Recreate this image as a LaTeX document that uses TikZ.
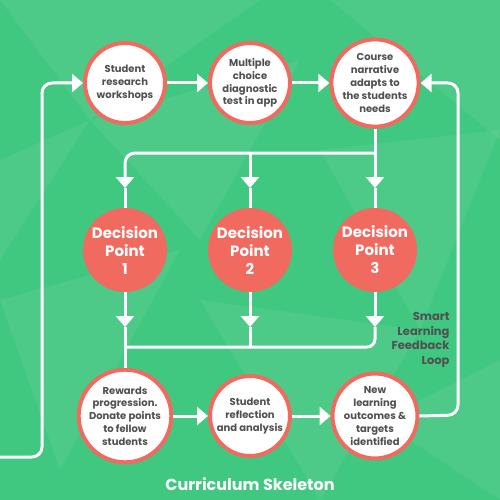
\documentclass[tikz,border=0pt]{standalone}
\usepackage{fontspec}
\setmainfont{Poppins}
\usetikzlibrary{arrows.meta}
\definecolor{bggreen}{RGB}{64,199,128}
\definecolor{nodered}{RGB}{240,106,96}
\definecolor{txtgray}{RGB}{80,80,80}
\tikzset{
  conn/.style={draw=white, line width=3pt},
  arr/.style={conn, -{Triangle[width=18pt,length=11pt]}},
  stepcircle/.style={circle, draw=nodered, line width=4pt, fill=white, minimum size=80pt, inner sep=0pt,
     align=center, text=txtgray, font=\bfseries\fontsize{10}{12.8}\selectfont},
  decision/.style={circle, fill=nodered, minimum size=84pt, inner sep=0pt, outer sep=0pt,
     align=center, text=white, font=\bfseries\fontsize{15}{18}\selectfont},
  patch/.style={fill=white, fill opacity=0.07, draw=none}
}
\begin{document}
\begin{tikzpicture}[x=1pt,y=-1pt]
\useasboundingbox (0,0) rectangle (500,500);
\fill[bggreen] (0,0) rectangle (500,500);
% background texture
\fill[patch] (0,0) -- (260,0) -- (90,120) -- cycle;
\fill[patch] (330,0) -- (500,0) -- (500,140) -- cycle;
\fill[patch] (90,120) -- (300,60) -- (200,240) -- cycle;
\fill[patch] (320,150) -- (500,130) -- (420,330) -- cycle;
\fill[patch] (0,300) -- (180,250) -- (60,470) -- cycle;
\fill[patch] (200,300) -- (420,330) -- (320,500) -- cycle;
\fill[patch] (0,160) -- (90,120) -- (0,260) -- cycle;
\fill[patch] (380,420) -- (500,360) -- (500,500) -- cycle;

% top row
\node[stepcircle] (S1) at (125,83) {Student\\research\\workshops};
\node[stepcircle] (S2) at (250,83) {Multiple\\choice\\diagnostic\\test in app};
\node[stepcircle] (S3) at (375,83) {Course\\narrative\\adapts to\\the students\\needs};
% decisions
\node[decision] (D1) at (125,250) {Decision\\Point\\1};
\node[decision] (D2) at (250,250) {Decision\\Point\\2};
\node[decision] (D3) at (375,250) {Decision\\Point\\3};
% bottom row
\node[stepcircle] (R1) at (125,416) {Rewards\\progression.\\Donate points\\to fellow\\students};
\node[stepcircle] (R2) at (250,416) {Student\\reflection\\and analysis};
\node[stepcircle] (R3) at (375,416) {New\\learning\\outcomes \&\\targets\\identified};

% coordinates
\coordinate (L0) at (0,457);
\coordinate (LC) at (42,457);
\coordinate (RC) at (458,415);
\coordinate (B3) at (375,153);
\coordinate (B2) at (250,153);
\coordinate (U1) at (125,188);
\coordinate (U2) at (250,188);
\coordinate (U3) at (375,188);
\coordinate (W1) at (125,327);
\coordinate (W2) at (250,327);
\coordinate (W3) at (375,327);
\coordinate (J1) at (125,347);
\coordinate (J2) at (250,347);

% top row connectors
\draw[arr] (S1) -- (S2);
\draw[arr] (S2) -- (S3);
% left loop
\draw[arr, rounded corners=10pt] (L0) -- (LC) |- (S1.west);
% right loop
\draw[arr, rounded corners=10pt] (R3.east) -- (RC) |- (S3.east);
% branch down from S3
\draw[conn] (S3.south) -- (B3);
\draw[arr] (B3) -- (U3);
\draw[conn] (U3) -- (D3.north);
\draw[arr, rounded corners=10pt] (B3) -| (U1);
\draw[conn] (U1) -- (D1.north);
\draw[arr] (B2) -- (U2);
\draw[conn] (U2) -- (D2.north);
% below decisions
\draw[arr] (D1.south) -- (W1);
\draw[conn] (W1) -- (R1.north);
\draw[arr] (D2.south) -- (W2);
\draw[conn] (W2) -- (J2);
\draw[arr] (D3.south) -- (W3);
\draw[conn, rounded corners=8pt] (W3) |- (J1);
% bottom row connectors
\draw[arr] (R1) -- (R2);
\draw[arr] (R2) -- (R3);

% labels
\node[anchor=east, align=right, text=txtgray, font=\bfseries\fontsize{11.5}{14.5}\selectfont] (FB) at (453,340) {Smart\\Learning\\Feedback\\Loop};
\node[text=white, font=\bfseries\fontsize{16}{19}\selectfont] (T) at (250,484) {Curriculum Skeleton};
\end{tikzpicture}
\end{document}
